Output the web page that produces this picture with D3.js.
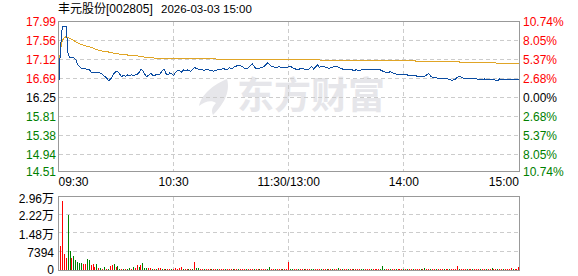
<!DOCTYPE html>
<html><head><meta charset="utf-8">
<script src="https://cdn.jsdelivr.net/npm/d3@7"></script>
<style>
body{margin:0;background:#fff}
svg{display:block}
text{font-family:"Liberation Sans",Arial,"Noto Sans CJK SC",sans-serif;font-size:12px}
</style>
</head><body>
<svg id="c" width="578" height="276"></svg>
<script>
// ---------- data ----------
const stockName = "丰元股份[002805]";
const stamp = "2026-03-03 15:00";
const prevClose = 16.25;
const priceTicks = [17.99, 17.56, 17.12, 16.69, 16.25, 15.81, 15.38, 14.94, 14.51];
const pctLabels = ["10.74%", "8.05%", "5.37%", "2.68%", "0.00%", "2.68%", "5.37%", "8.05%", "10.74%"];
const timeTicks = [0, 60, 120, 180, 240];
const timeLabels = ["09:30", "10:30", "11:30/13:00", "14:00", "15:00"];
const volTicks = [29576, 22182, 14788, 7394, 0];
const volLabels = ["2.96万", "2.22万", "1.48万", "7394", "0"];

const price = [
16.37,17.35,17.88,17.88,17.88,17.25,17.15,17.16,17.15,17.12,
17.00,16.95,16.91,16.90,16.90,16.89,16.89,16.83,16.81,16.83,
16.83,16.82,16.80,16.77,16.73,16.70,16.63,16.66,16.72,16.80,
16.84,16.83,16.78,16.72,16.76,16.73,16.76,16.74,16.77,16.75,
16.76,16.78,16.82,16.90,16.86,16.78,16.72,16.76,16.80,16.76,
16.74,16.78,16.76,16.79,16.86,16.90,16.80,16.76,16.81,16.79,
16.75,16.82,16.86,16.87,16.82,16.88,16.85,16.88,16.86,16.85,
16.90,16.93,16.91,16.89,16.88,16.88,16.87,16.89,16.88,16.87,
16.86,16.85,16.87,16.88,16.89,16.89,16.91,16.89,16.89,16.93,
16.91,16.92,16.96,16.97,16.98,16.97,16.95,16.91,16.91,16.93,
16.97,17.02,16.96,16.90,16.91,16.92,16.93,16.95,16.99,17.04,
17.00,16.96,16.95,16.94,16.94,16.95,16.94,16.94,16.94,16.94,
16.95,
16.96,16.93,16.91,16.89,16.88,16.91,16.90,16.90,16.89,16.88,
16.91,16.96,16.90,16.94,16.99,16.94,16.95,16.96,16.94,16.93,
16.91,16.93,16.94,16.96,16.95,16.94,16.92,16.90,16.88,16.88,
16.89,16.90,16.88,16.86,16.88,16.87,16.86,16.88,16.88,16.88,
16.88,16.88,16.88,16.88,16.89,16.89,16.90,16.87,16.85,16.83,
16.81,16.82,16.84,16.81,16.80,16.78,16.78,16.78,16.76,16.77,
16.78,16.76,16.76,16.76,16.75,16.75,16.73,16.73,16.73,16.73,
16.73,16.77,16.80,16.73,16.71,16.71,16.70,16.68,16.68,16.67,
16.67,16.68,16.67,16.66,16.63,16.65,16.67,16.71,16.73,16.71,
16.69,16.68,16.67,16.67,16.67,16.67,16.67,16.67,16.66,16.65,
16.66,16.67,16.66,16.65,16.65,16.66,16.65,16.64,16.63,16.67,
16.66,16.65,16.65,16.65,16.65,16.65,16.65,16.65,16.65,16.66
];

const avgPrice = [
16.70,17.35,17.55,17.62,17.64,17.63,17.60,17.58,17.55,17.52,
17.50,17.48,17.46,17.45,17.43,17.42,17.41,17.39,17.38,17.36,
17.35,17.33,17.32,17.31,17.30,17.30,17.29,17.28,17.27,17.26,
17.25,17.25,17.24,17.24,17.23,17.23,17.22,17.22,17.21,17.21,
17.20,17.20,17.19,17.18,17.18,17.17,17.17,17.16,17.16,17.16,
17.15,17.15,17.15,17.15,17.14,17.14,17.14,17.14,17.14,17.14,
17.13,17.13,17.13,17.13,17.13,17.13,17.13,17.13,17.13,17.13,
17.13,17.13,17.13,17.13,17.13,17.13,17.13,17.13,17.13,17.13,
17.13,17.13,17.13,17.11,17.11,17.11,17.11,17.11,17.11,17.11,
17.11,17.11,17.11,17.11,17.11,17.11,17.11,17.11,17.11,17.11,
17.11,17.11,17.11,17.11,17.11,17.11,17.11,17.11,17.11,17.11,
17.11,17.11,17.11,17.11,17.11,17.11,17.11,17.11,17.11,17.11,
17.11,
17.11,17.11,17.11,17.11,17.11,17.11,17.11,17.11,17.11,17.11,
17.11,17.11,17.11,17.11,17.11,17.11,17.085,17.085,17.085,17.085,
17.085,17.085,17.085,17.085,17.085,17.085,17.085,17.085,17.085,17.085,
17.085,17.085,17.085,17.085,17.085,17.085,17.085,17.085,17.085,17.085,
17.085,17.085,17.085,17.085,17.085,17.085,17.085,17.085,17.085,17.085,
17.085,17.085,17.085,17.085,17.085,17.085,17.085,17.085,17.085,17.085,
17.085,17.085,17.085,17.085,17.085,17.085,17.06,17.06,17.06,17.06,
17.06,17.06,17.06,17.06,17.06,17.06,17.06,17.06,17.06,17.06,
17.06,17.06,17.06,17.06,17.06,17.06,17.06,17.06,17.06,17.04,
17.04,17.04,17.04,17.04,17.04,17.04,17.04,17.04,17.04,17.04,
17.04,17.04,17.04,17.04,17.04,17.04,17.04,17.04,17.02,17.02,
17.02,17.02,17.02,17.02,17.02,17.02,17.02,17.02,17.02,17.02
];

const volume = [
0,
9460,27700,6490,5000,22300,7700,5000,5680,4055,3110,
2970,2700,2570,2430,4325,4055,2030,2300,1220,2300,
950,680,540,1220,400,400,1760,2030,2430,1350,
1620,540,400,400,400,400,680,540,1080,950,
2030,1080,2030,2840,950,680,680,810,540,540,
540,810,810,540,400,400,400,400,400,400,
680,400,680,1350,350,400,300,400,350,400,
3240,810,680,400,350,300,400,350,300,350,
400,300,350,300,400,350,300,350,400,300,
350,400,300,350,300,400,350,300,350,400,
300,350,300,400,350,300,350,400,300,1220,
350,300,400,350,300,350,400,300,350,3380,
300,350,250,300,400,300,250,350,300,300,
350,300,250,300,350,300,300,250,350,300,
300,250,350,300,300,810,250,300,350,300,
250,300,300,350,250,300,300,250,350,300,
300,250,300,350,300,250,300,350,1620,300,
250,300,350,300,250,300,300,350,250,300,
300,250,350,300,300,250,300,350,300,250,
810,300,250,300,350,300,250,300,300,350,
250,300,300,350,250,300,300,1620,300,250,
300,350,250,300,300,250,350,300,300,250,
300,300,350,250,300,810,300,250,300,350,
250,300,300,350,250,810,300,250,300,1350
];

const volDir = (
"r" +
"rrrrggrggg" + "ggrrggrrrg" + "rgrgrgrrgr" + "ggrgrggrgr" +
"rgrgggrrgr" + "grrgrgrrgr" + "rrrrgrrgrg" + "rggrrgrrrg" +
"rrgrrrgrrr" + "grrgrrrgrr" + "rgrrgrrrgg" + "rrgrrrgrrr" +
"ggrrgrrgrr" + "rggrrrgrrg" + "rrgrrgrgrr" + "grrgrrrggr" +
"rrgrrrrggg" + "rrgrrgrrrg" + "rgrrgrrrgr" + "grrgrrgrrr" +
"grrgrrrrgr" + "rrgrrgrrrg" + "rrgrrgrrgr" + "rgrrrrgrrr"
).split("");

// ---------- drawing ----------
const svg = d3.select("#c");
const RED = "#ff0000", GREEN = "#008000", GRID = "#cccccc", FRAME = "#999999";

const x = d3.scaleLinear().domain([0, 240]).range([58.5, 518.9]);
const y = d3.scaleLinear().domain([14.51, 17.99]).range([173, 21.5]);
const yv = d3.scaleLinear().domain([0, 29576]).range([270, 196.5]);

// title
svg.append("text").attr("x", 58).attr("y", 13).attr("fill", "#000").text(stockName);
svg.append("text").attr("x", 161).attr("y", 13).attr("fill", "#000").style("font-size", "11.5px").text(stamp);

// watermark
const wm = svg.append("g").attr("fill", "#e6e6ea");
wm.append("path").attr("d", "M227,79 C214,84 201,95 199,106 C205,101 212,100 216,103 C212,107 211,111 213,115 C222,106 231,93 227,79 Z");
wm.append("text").attr("x", 237).attr("y", 109).style("font-size", "37px").style("font-weight", "bold")
  .style("font-family", "'Noto Sans CJK SC',sans-serif").text("东方财富");

// price panel grid
const gMain = svg.append("g");
gMain.selectAll("line.h").data(priceTicks.slice(1, -1)).join("line")
  .attr("x1", 59).attr("x2", 519)
  .attr("y1", d => Math.floor(y(d)) + 0.5).attr("y2", d => Math.floor(y(d)) + 0.5)
  .attr("stroke", GRID).attr("stroke-dasharray", "4,3").attr("shape-rendering", "crispEdges");
gMain.selectAll("line.v").data(timeTicks.slice(1, -1)).join("line")
  .attr("x1", d => Math.floor(x(d)) + 0.5).attr("x2", d => Math.floor(x(d)) + 0.5)
  .attr("y1", 22).attr("y2", 171)
  .attr("stroke", GRID).attr("stroke-dasharray", "4,3").attr("shape-rendering", "crispEdges");

// avg + price lines
const lineAvg = d3.line().x((d, i) => x(i)).y(d => y(d));
const linePrice = d3.line().x((d, i) => x(i)).y(d => y(d));
svg.append("path").datum(avgPrice).attr("d", lineAvg).attr("fill", "none")
  .attr("stroke", "#e0a526").attr("stroke-width", 1).attr("shape-rendering", "crispEdges");
svg.append("path").datum(price).attr("d", linePrice).attr("fill", "none")
  .attr("stroke", "#0c4da2").attr("stroke-width", 1).attr("shape-rendering", "crispEdges");

// price frame
svg.append("rect").attr("x", 58.5).attr("y", 21.5).attr("width", 461).attr("height", 150)
  .attr("fill", "none").attr("stroke", FRAME).attr("shape-rendering", "crispEdges");

// left price labels
const colorFor = v => v > prevClose ? RED : (v < prevClose ? GREEN : "#000");
svg.selectAll("text.pl").data(priceTicks).join("text")
  .attr("x", 56).attr("y", (d, i) => (i === priceTicks.length - 1 ? 171.5 : y(d)) + 4.5)
  .attr("text-anchor", "end").attr("fill", d => colorFor(d)).text(d => d.toFixed(2));
// right pct labels
svg.selectAll("text.pr").data(pctLabels).join("text")
  .attr("x", 523).attr("y", (d, i) => (i === pctLabels.length - 1 ? 171.5 : y(priceTicks[i])) + 4.5)
  .attr("fill", (d, i) => colorFor(priceTicks[i])).text(d => d);

// time labels
svg.selectAll("text.t").data(timeTicks).join("text")
  .attr("x", d => x(d)).attr("y", 186)
  .attr("text-anchor", (d, i) => i === 0 ? "start" : (i === timeTicks.length - 1 ? "end" : "middle"))
  .attr("fill", "#000").text((d, i) => timeLabels[i]);

// volume panel grid
svg.selectAll("line.vh").data(volTicks.slice(1, -1)).join("line")
  .attr("x1", 59).attr("x2", 519)
  .attr("y1", d => Math.round(yv(d)) - 0.5).attr("y2", d => Math.round(yv(d)) - 0.5)
  .attr("stroke", GRID).attr("stroke-dasharray", "4,3").attr("shape-rendering", "crispEdges");
svg.selectAll("line.vv").data(timeTicks.slice(1, -1)).join("line")
  .attr("x1", d => Math.floor(x(d)) + 0.5).attr("x2", d => Math.floor(x(d)) + 0.5)
  .attr("y1", 197).attr("y2", 270)
  .attr("stroke", GRID).attr("stroke-dasharray", "4,3").attr("shape-rendering", "crispEdges");

// volume bars
svg.append("g").selectAll("rect").data(volume).join("rect")
  .attr("x", (d, i) => Math.floor(x(i)))
  .attr("width", 1)
  .attr("y", d => Math.min(yv(d), 269))
  .attr("height", d => Math.max(1, 270 - yv(d)))
  .attr("fill", (d, i) => volDir[i] === "r" ? RED : GREEN)
  .attr("shape-rendering", "crispEdges");

// volume frame
svg.append("rect").attr("x", 58.5).attr("y", 196.5).attr("width", 461).attr("height", 74)
  .attr("fill", "none").attr("stroke", FRAME).attr("shape-rendering", "crispEdges");

// volume labels
svg.selectAll("text.vl").data(volTicks).join("text")
  .attr("x", 54).attr("y", (d, i) => yv(d) + (i === 0 ? 6.5 : (i === volTicks.length - 1 ? 4 : 5.5)))
  .attr("text-anchor", "end").attr("fill", "#000").text((d, i) => volLabels[i]);
</script>
</body></html>
